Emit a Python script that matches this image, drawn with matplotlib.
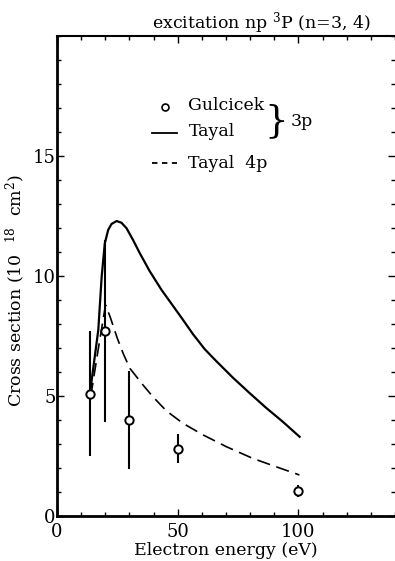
import matplotlib
matplotlib.use("Agg")
import matplotlib.pyplot as plt
from matplotlib.ticker import MultipleLocator, FixedLocator

plt.rcParams["font.family"] = ["DejaVu Serif"]
plt.rcParams["mathtext.fontset"] = "dejavuserif"

# ---------------------------------------------------------------- data
# Gulcicek (3p), measured points with error bars
gul_e = [13.5, 20, 30, 50, 100]
gul_sig = [5.1, 7.7, 4.0, 2.8, 1.05]
gul_err = [2.6, 3.8, 2.05, 0.6, 0.25]

# Tayal 3p (solid)
tay3_e = [13.5, 17.1, 18.5, 19.8, 21.2, 22.6, 24.7, 26.7, 28.8, 31.5, 34.3,
          38.4, 43.3, 48.8, 52.0, 56.3, 61.2, 66.0, 72.9, 79.8, 86.7, 93.5, 100.5]
tay3_sig = [5.0, 7.75, 9.97, 11.36, 11.92, 12.17, 12.29, 12.22, 11.99, 11.5, 10.95,
            10.2, 9.42, 8.65, 8.2, 7.58, 6.95, 6.45, 5.76, 5.12, 4.5, 3.93, 3.3]

# Tayal 4p (dashed)
tay4_e = [14, 17, 20.1, 22, 25, 27.5, 30.2, 35.7, 39.8, 45.3, 52.2, 60.5,
          70.1, 81.1, 90.8, 100.4]
tay4_sig = [5.0, 6.9, 8.79, 8.3, 7.4, 6.75, 6.15, 5.45, 4.96, 4.38, 3.86, 3.38,
            2.89, 2.4, 2.05, 1.71]

fig = plt.figure(figsize=(3.95, 5.61), dpi=100)
ax = fig.add_axes([57 / 395, 45 / 561, 1 - 57 / 395, 480 / 561])

ax.plot(tay3_e, tay3_sig, color="black", lw=1.6)
ax.plot(tay4_e, tay4_sig, color="black", lw=1.2, ls=(0, (8, 4)))
ax.errorbar(gul_e, gul_sig, yerr=gul_err, fmt="o", ms=6, mfc="white",
            mec="black", mew=1.4, ecolor="black", elinewidth=1.5, capsize=0,
            zorder=5)

ax.set_xlim(0, 140)
ax.set_ylim(0, 20)
ax.xaxis.set_major_locator(MultipleLocator(50))
ax.xaxis.set_minor_locator(MultipleLocator(10))
ax.yaxis.set_major_locator(FixedLocator([0, 5, 10, 15]))
ax.yaxis.set_minor_locator(MultipleLocator(1))
ax.tick_params(which="both", direction="in", top=True, right=True,
               labelsize=13, width=1.0)
ax.tick_params(which="major", length=5)
ax.tick_params(which="minor", length=3)
ax.tick_params(axis="x", pad=5)
ax.tick_params(axis="y", pad=1)

# right-side ticks only up to 15 as in the original
for t in ax.yaxis.get_major_ticks() + ax.yaxis.get_minor_ticks():
    if t.get_loc() > 15.5:
        t.tick2line.set_visible(False)

ax.spines["right"].set_visible(False)
ax.spines["left"].set_linewidth(2.0)
ax.spines["bottom"].set_linewidth(2.0)
ax.spines["top"].set_linewidth(1.5)

ax.set_xlabel("Electron energy (eV)", fontsize=12.5, labelpad=1)
ax.set_ylabel(r"Cross section (10  $^{18}$  cm$^{2}$)", fontsize=12.5)
ax.yaxis.set_label_coords(-0.088, 0.47)

fig.text(261 / 395, 1 - 23 / 561, r"excitation np $^{3}$P (n=3, 4)",
         fontsize=12.5, ha="center", va="center")

# legend drawn by hand, like the original
ax.plot([0.32], [0.852], "o", transform=ax.transAxes, ms=5, mfc="white",
        mec="black", mew=1.2, clip_on=False)
ax.plot([0.28, 0.355], [0.798, 0.798], transform=ax.transAxes,
        color="black", lw=1.3)
ax.plot([0.28, 0.355], [0.735, 0.735], transform=ax.transAxes,
        color="black", lw=1.3, ls=(0, (3, 2.5)))
ax.text(0.389, 0.856, "Gulcicek", transform=ax.transAxes, fontsize=12.5,
        va="center")
ax.text(0.389, 0.800, "Tayal", transform=ax.transAxes, fontsize=12.5,
        va="center")
ax.text(0.389, 0.735, "Tayal  4p", transform=ax.transAxes, fontsize=12.5,
        va="center")
ax.text(0.648, 0.823, "}", transform=ax.transAxes, fontsize=27,
        va="center", ha="center")
ax.text(0.690, 0.822, "3p", transform=ax.transAxes, fontsize=12.5,
        va="center", ha="left")

fig.savefig("out.png", dpi=100)
